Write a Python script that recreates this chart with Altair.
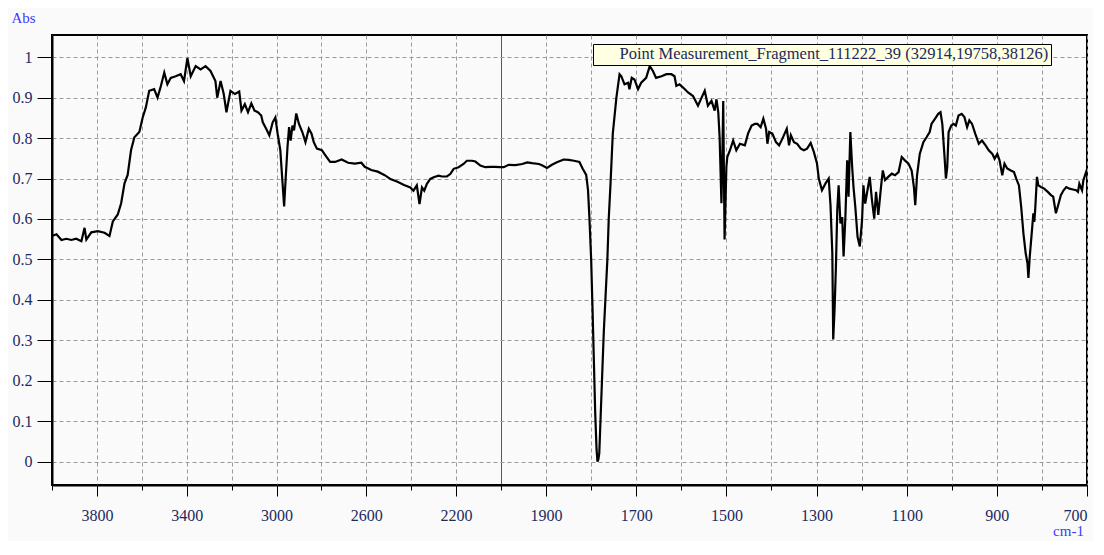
import altair as alt
import pandas as pd

# ---- data ----
wavenumber = [
    4000, 3980, 3958, 3936, 3914, 3892, 3869, 3855, 3847, 3825, 3796, 3766, 3744, 3729, 3707, 3692,
    3677, 3663, 3648, 3633, 3611, 3596, 3582, 3567, 3545, 3530, 3515, 3500, 3486, 3471, 3449, 3427,
    3412, 3397, 3382, 3360, 3338, 3316, 3294, 3272, 3264, 3249, 3235, 3223, 3205, 3185, 3166, 3156,
    3141, 3127, 3112, 3098, 3083, 3068, 3061, 3046, 3032, 3017, 3005, 2995, 2983, 2973, 2966, 2959,
    2951, 2944, 2937, 2929, 2922, 2912, 2900, 2885, 2871, 2856, 2844, 2834, 2820, 2798, 2783, 2761,
    2739, 2710, 2681, 2651, 2622, 2607, 2578, 2549, 2520, 2490, 2461, 2432, 2404, 2390, 2375, 2363,
    2352, 2342, 2330, 2315, 2300, 2278, 2263, 2241, 2226, 2211, 2189, 2167, 2152, 2129, 2114, 2092,
    2070, 2048, 2026, 2004, 1994, 1983, 1968, 1953, 1942, 1931, 1916, 1909, 1898, 1887, 1876, 1861,
    1850, 1838, 1826, 1819, 1811, 1807, 1804, 1800, 1797, 1794, 1791, 1788, 1786, 1784, 1782, 1780,
    1776, 1772, 1768, 1764, 1761, 1757, 1752, 1744, 1737, 1733, 1726, 1718, 1715, 1710, 1704, 1696,
    1689, 1678, 1670, 1663, 1656, 1644, 1633, 1622, 1615, 1611, 1604, 1596, 1585, 1574, 1563, 1555,
    1548, 1541, 1533, 1526, 1522, 1518, 1515, 1511, 1509, 1507, 1504, 1500, 1498, 1492, 1485, 1478,
    1470, 1459, 1452, 1444, 1437, 1431, 1424, 1418, 1412, 1409, 1405, 1398, 1390, 1383, 1376, 1366,
    1361, 1357, 1350, 1343, 1335, 1328, 1321, 1313, 1306, 1299, 1295, 1288, 1280, 1273, 1269, 1265,
    1263, 1260, 1257, 1254, 1251, 1247, 1243, 1240, 1236, 1232, 1229, 1225, 1221, 1218, 1214, 1209,
    1204, 1199, 1196, 1192, 1187, 1182, 1177, 1172, 1168, 1163, 1157, 1153, 1148, 1141, 1133, 1126,
    1118, 1111, 1104, 1096, 1089, 1084, 1081, 1077, 1071, 1063, 1056, 1049, 1045, 1037, 1030, 1025,
    1021, 1016, 1013, 1010, 1007, 1001, 996, 991, 985, 978, 972, 966, 961, 955, 948, 940,
    933, 925, 918, 910, 905, 899, 894, 888, 883, 877, 869, 862, 857, 851, 846, 841,
    836, 832, 830, 827, 822, 819, 817, 815, 811, 808, 802, 795, 787, 780, 775, 769,
    764, 758, 752, 746, 739, 731, 724, 720, 717, 711, 708, 702, 700,
]
absorbance = [
    0.558, 0.562, 0.548, 0.551, 0.548, 0.551, 0.545, 0.578, 0.549, 0.567, 0.570, 0.566, 0.558, 0.594, 0.611, 0.639,
    0.688, 0.709, 0.770, 0.802, 0.815, 0.851, 0.876, 0.917, 0.921, 0.900, 0.929, 0.962, 0.933, 0.949, 0.953, 0.958,
    0.941, 0.998, 0.953, 0.978, 0.970, 0.978, 0.966, 0.941, 0.900, 0.941, 0.909, 0.864, 0.917, 0.909, 0.915, 0.868,
    0.884, 0.864, 0.886, 0.868, 0.864, 0.856, 0.839, 0.823, 0.807, 0.839, 0.851, 0.811, 0.770, 0.688, 0.631, 0.702,
    0.778, 0.827, 0.794, 0.831, 0.819, 0.861, 0.835, 0.815, 0.790, 0.823, 0.811, 0.790, 0.774, 0.770, 0.758, 0.741,
    0.741, 0.747, 0.739, 0.737, 0.739, 0.729, 0.721, 0.717, 0.709, 0.698, 0.692, 0.684, 0.678, 0.670, 0.683, 0.637,
    0.678, 0.670, 0.687, 0.699, 0.703, 0.707, 0.705, 0.705, 0.711, 0.724, 0.728, 0.736, 0.744, 0.744, 0.742, 0.732,
    0.728, 0.729, 0.729, 0.728, 0.728, 0.734, 0.733, 0.736, 0.740, 0.738, 0.736, 0.733, 0.726, 0.734, 0.740, 0.747,
    0.746, 0.744, 0.741, 0.725, 0.709, 0.672, 0.607, 0.500, 0.380, 0.250, 0.120, 0.030, 0.000, 0.005, 0.020, 0.080,
    0.200, 0.320, 0.410, 0.500, 0.600, 0.688, 0.811, 0.900, 0.958, 0.953, 0.933, 0.937, 0.921, 0.949, 0.945, 0.921,
    0.937, 0.949, 0.978, 0.966, 0.949, 0.953, 0.958, 0.958, 0.953, 0.929, 0.933, 0.925, 0.913, 0.904, 0.880, 0.900,
    0.917, 0.880, 0.892, 0.868, 0.896, 0.864, 0.802, 0.639, 0.750, 0.892, 0.549, 0.729, 0.753, 0.770, 0.794, 0.770,
    0.786, 0.782, 0.811, 0.831, 0.835, 0.835, 0.827, 0.848, 0.823, 0.786, 0.815, 0.811, 0.790, 0.782, 0.798, 0.823,
    0.782, 0.807, 0.790, 0.786, 0.774, 0.770, 0.774, 0.788, 0.766, 0.737, 0.700, 0.671, 0.688, 0.700, 0.634, 0.515,
    0.302, 0.376, 0.482, 0.622, 0.683, 0.589, 0.605, 0.507, 0.605, 0.745, 0.655, 0.815, 0.729, 0.679, 0.630, 0.556,
    0.532, 0.597, 0.683, 0.638, 0.671, 0.704, 0.646, 0.601, 0.667, 0.610, 0.679, 0.720, 0.696, 0.704, 0.712, 0.708,
    0.716, 0.753, 0.745, 0.737, 0.720, 0.679, 0.634, 0.708, 0.761, 0.790, 0.802, 0.815, 0.835, 0.848, 0.860, 0.864,
    0.835, 0.753, 0.700, 0.729, 0.815, 0.831, 0.835, 0.831, 0.856, 0.860, 0.852, 0.827, 0.844, 0.835, 0.811, 0.786,
    0.794, 0.782, 0.770, 0.761, 0.749, 0.761, 0.745, 0.708, 0.737, 0.725, 0.720, 0.716, 0.700, 0.683, 0.630, 0.564,
    0.515, 0.490, 0.454, 0.507, 0.573, 0.614, 0.593, 0.622, 0.704, 0.683, 0.679, 0.675, 0.667, 0.659, 0.655, 0.614,
    0.634, 0.659, 0.671, 0.679, 0.675, 0.673, 0.671, 0.667, 0.687, 0.671, 0.696, 0.716, 0.712,
]
series_name = "Point Measurement_Fragment_111222_39 (32914,19758,38126)"

major_ticks = [3800, 3400, 3000, 2600, 2200, 1900, 1700, 1500, 1300, 1100, 900, 700]
minor_ticks = [4000, 3600, 3200, 2800, 2400, 2000, 1800, 1600, 1400, 1200, 1000, 800]
y_ticks = [0, 0.1, 0.2, 0.3, 0.4, 0.5, 0.6, 0.7, 0.8, 0.9, 1.0]

df = pd.DataFrame({"wn": wavenumber, "abs": absorbance, "series": series_name})

FONT = "Liberation Serif, Times New Roman, serif"
LABEL_COLOR = "#1c2a60"
TITLE_COLOR = "#3a3aff"
GRID_COLOR = "#9a9a9a"

PLOT_W, PLOT_H = 1035, 450

# piecewise x scale: 4000-2000 compressed, 2000-700 expanded
xscale = alt.Scale(domain=[4000, 2000, 700], range=[0, 449, PLOT_W], nice=False, zero=False)
yscale = alt.Scale(domain=[-0.058, 1.055], nice=False, zero=False)

base = alt.Chart(df)

minor = base.mark_line(strokeOpacity=0).encode(
    x=alt.X(
        "wn:Q",
        scale=xscale,
        axis=alt.Axis(
            values=minor_ticks,
            orient="bottom",
            labels=False,
            tickSize=5,
            grid=True,
            domain=False,
            title=None,
            gridDash={"condition": {"test": "datum.value == 2000", "value": [1, 0]}, "value": [4, 3]},
            gridColor={"condition": {"test": "datum.value == 2000", "value": "#222222"}, "value": GRID_COLOR},
        ),
    ),
    y=alt.Y("abs:Q", scale=yscale),
)

main = base.mark_line(strokeWidth=2.2).encode(
    x=alt.X(
        "wn:Q",
        scale=xscale,
        axis=alt.Axis(
            values=major_ticks,
            orient="bottom",
            format="d",
            tickSize=11,
            labelPadding=24,
            labelBaseline="alphabetic",
            grid=True,
            title="cm-1",
            titleX=1016,
            titleY=50,
            titleAlign="center",
            titleBaseline="alphabetic",
            titleColor=TITLE_COLOR,
            titleFontSize=15,
            titleFontWeight="normal",
        ),
    ),
    y=alt.Y(
        "abs:Q",
        scale=yscale,
        axis=alt.Axis(
            values=y_ticks,
            format=".1~f",
            tickSize=15,
            labelPadding=5,
            labelBaseline="middle",
            grid=True,
            title="Abs",
            titleAngle=0,
            titleX=-41,
            titleY=-13,
            titleAlign="left",
            titleBaseline="alphabetic",
            titleColor=TITLE_COLOR,
            titleFontSize=15,
            titleFontWeight="normal",
        ),
    ),
    color=alt.Color(
        "series:N",
        scale=alt.Scale(range=["black"]),
        legend=alt.Legend(
            title=None,
            orient="none",
            legendX=541,
            legendY=9,
            fillColor="#ffffe1",
            strokeColor="black",
            padding=2,
            labelFont=FONT,
            labelFontSize=16.5,
            labelColor=LABEL_COLOR,
            labelLimit=700,
            labelOffset=8,
            symbolSize=0,
            symbolOpacity=0,
            symbolStrokeWidth=0,
        ),
    ),
)

chart = (
    alt.layer(minor, main)
    .resolve_axis(x="independent")
    .properties(
        width=PLOT_W,
        height=PLOT_H,
        autosize=alt.AutoSizeParams(type="none"),
        padding={"left": 44, "top": 27, "right": 6, "bottom": 56},
        background="#fafafa",
    )
    .configure_view(stroke="black", strokeWidth=2)
    .configure_axis(
        labelFont=FONT,
        labelFontSize=16,
        labelColor=LABEL_COLOR,
        titleFont=FONT,
        tickColor="black",
        tickWidth=1,
        domainColor="black",
        domainWidth=2,
        gridColor=GRID_COLOR,
        gridDash=[4, 3],
        gridWidth=1,
    )
)

chart.save("out.html", embed_options={"renderer": "svg", "actions": False})
